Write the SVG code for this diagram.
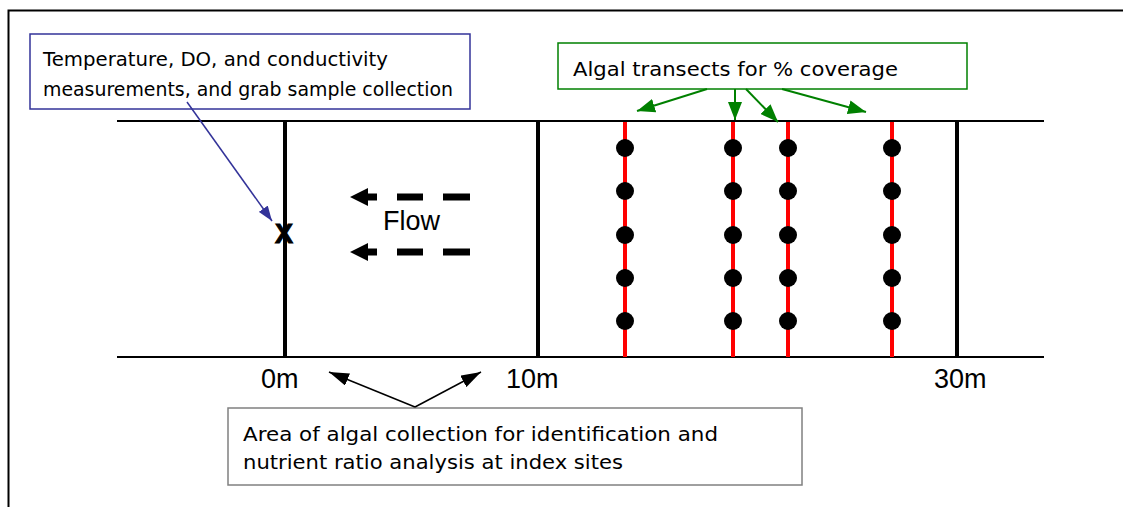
<svg xmlns="http://www.w3.org/2000/svg" width="1123" height="507" viewBox="0 0 1123 507">
<style>
.note{font-family:"DejaVu Sans","Liberation Sans",sans-serif;font-size:20px;fill:#000}
.lab{font-family:"Liberation Sans",Arial,sans-serif;font-size:27px;fill:#000}
.bank{stroke:#000;stroke-width:2}
.mark{stroke:#000;stroke-width:4}
.tr{stroke:#ff0000;stroke-width:4}
.dot{fill:#000}
</style>
<defs>
<marker id="ab" viewBox="0 0 15 11" refX="15" refY="5.5" markerWidth="15" markerHeight="11" orient="auto" markerUnits="userSpaceOnUse"><path d="M0,0L15,5.5L0,11z" fill="#333399"/></marker>
<marker id="ag" viewBox="0 0 18 14" refX="18" refY="7" markerWidth="18" markerHeight="14" orient="auto" markerUnits="userSpaceOnUse"><path d="M0,0L18,7L0,14z" fill="#008000"/></marker>
<marker id="ak" viewBox="0 0 20 13" refX="20" refY="6.5" markerWidth="20" markerHeight="13" orient="auto" markerUnits="userSpaceOnUse"><path d="M0,0L20,6.5L0,13z" fill="#000"/></marker>
</defs>
<rect width="1123" height="507" fill="#fff"/>
<path d="M8.5,507V10.5H1123" fill="none" stroke="#000" stroke-width="2"/>
<g id="stream">
<line class="bank" x1="117" y1="121" x2="1044" y2="121"/>
<line class="bank" x1="117" y1="357" x2="1044" y2="357"/>
<line class="mark" x1="285" y1="121" x2="285" y2="357"/>
<line class="mark" x1="538" y1="121" x2="538" y2="357"/>
<line class="mark" x1="957" y1="121" x2="957" y2="357"/>
<text x="284" y="243" font-family="Liberation Sans,Arial,sans-serif" font-size="27" font-weight="bold" text-anchor="middle" stroke="#000" stroke-width="1">X</text>
</g>
<g id="transects">
<line class="tr" x1="625" y1="122" x2="625" y2="357"/>
<line class="tr" x1="733" y1="122" x2="733" y2="357"/>
<line class="tr" x1="788" y1="122" x2="788" y2="357"/>
<line class="tr" x1="892" y1="122" x2="892" y2="357"/>
<g class="dot">
<circle cx="625" cy="148" r="9"/><circle cx="625" cy="191" r="9"/><circle cx="625" cy="235" r="9"/><circle cx="625" cy="278" r="9"/><circle cx="625" cy="321" r="9"/>
<circle cx="733" cy="148" r="9"/><circle cx="733" cy="191" r="9"/><circle cx="733" cy="235" r="9"/><circle cx="733" cy="278" r="9"/><circle cx="733" cy="321" r="9"/>
<circle cx="788" cy="148" r="9"/><circle cx="788" cy="191" r="9"/><circle cx="788" cy="235" r="9"/><circle cx="788" cy="278" r="9"/><circle cx="788" cy="321" r="9"/>
<circle cx="892" cy="148" r="9"/><circle cx="892" cy="191" r="9"/><circle cx="892" cy="235" r="9"/><circle cx="892" cy="278" r="9"/><circle cx="892" cy="321" r="9"/>
</g>
</g>
<g id="flow">
<path d="M350,197L368,188V206z M350,252L368,243V261z" fill="#000"/>
<path d="M366,197H377M397,197H423M443,197H470M366,252H377M397,252H423M443,252H470" stroke="#000" stroke-width="7" fill="none"/>
<text class="lab" x="383" y="230" font-size="28">Flow</text>
</g>
<g id="scale">
<text class="lab" x="261" y="388">0m</text>
<text class="lab" x="506" y="388">10m</text>
<text class="lab" x="934" y="388">30m</text>
</g>
<g id="note-measure">
<rect x="30" y="34" width="440" height="75" fill="#fff" stroke="#333399" stroke-width="1.5"/>
<text class="note" x="43" y="66" textLength="345" lengthAdjust="spacingAndGlyphs">Temperature, DO, and conductivity</text>
<text class="note" x="43" y="96" textLength="410" lengthAdjust="spacingAndGlyphs">measurements, and grab sample collection</text>
</g>
<g id="note-transects">
<rect x="558" y="43" width="409" height="46" fill="#fff" stroke="#008000" stroke-width="1.5"/>
<text class="note" x="573" y="76" textLength="325" lengthAdjust="spacingAndGlyphs">Algal transects for % coverage</text>
</g>
<g id="note-area">
<rect x="228" y="408" width="574" height="77" fill="#fff" stroke="#808080" stroke-width="1.5"/>
<text class="note" x="243" y="441" textLength="475" lengthAdjust="spacingAndGlyphs">Area of algal collection for identification and</text>
<text class="note" x="243" y="469" textLength="380" lengthAdjust="spacingAndGlyphs">nutrient ratio analysis at index sites</text>
</g>
<g id="connectors" fill="none">
<line x1="187" y1="102" x2="272" y2="221" stroke="#333399" stroke-width="1.5" marker-end="url(#ab)" />
<g stroke="#008000" stroke-width="2" marker-end="url(#ag)">
<line x1="707" y1="89" x2="637" y2="111"/>
<line x1="735" y1="89" x2="735" y2="120"/>
<line x1="746" y1="89" x2="778" y2="122"/>
<line x1="782" y1="89" x2="866" y2="112"/>
</g>
<g stroke="#000" stroke-width="1.5" marker-end="url(#ak)">
<line x1="415" y1="407" x2="329" y2="372"/>
<line x1="415" y1="407" x2="481" y2="372"/>
</g>
</g>
</svg>
